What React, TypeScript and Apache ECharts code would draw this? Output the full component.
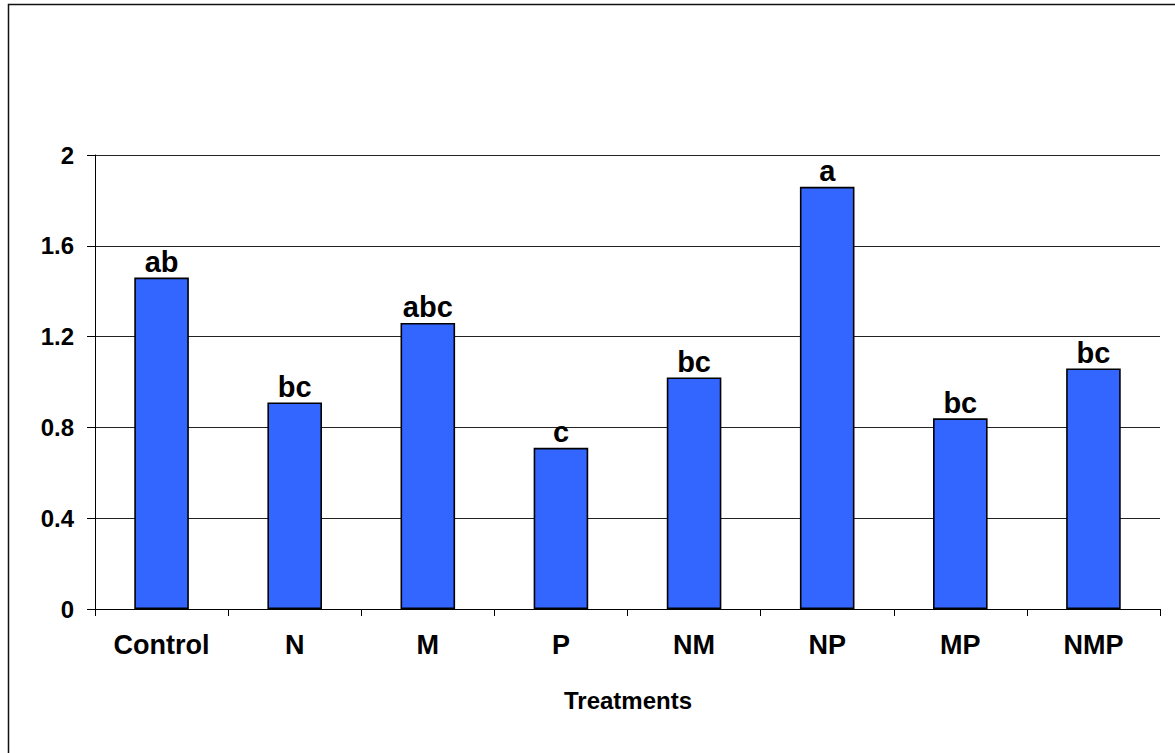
import React, { useEffect, useRef } from "react";
import * as echarts from "echarts";

const categories = ["Control", "N", "M", "P", "NM", "NP", "MP", "NMP"];
const values = [1.46, 0.91, 1.26, 0.71, 1.02, 1.86, 0.84, 1.06];
const letters = ["ab", "bc", "abc", "c", "bc", "a", "bc", "bc"];
const yMin = 0;
const yMax = 2;
const yStep = 0.4;
const xTitle = "Treatments";

const FONT = "'Liberation Sans', Arial, sans-serif";

export default function App() {
  const ref = useRef<HTMLDivElement>(null);
  useEffect(() => {
    if (!ref.current) return;
    const chart = echarts.init(ref.current, undefined, { renderer: "svg" });
    chart.setOption({
      animation: false,
      backgroundColor: "#ffffff",
      grid: { left: 95, right: 15, top: 155, bottom: 144, containLabel: false },
      xAxis: {
        type: "category",
        data: categories,
        boundaryGap: true,
        axisLine: { show: true, lineStyle: { color: "#000", width: 1 } },
        axisTick: { show: true, length: 7, alignWithLabel: false, lineStyle: { color: "#000", width: 1 } },
        axisLabel: {
          margin: 22,
          color: "#000",
          fontFamily: FONT,
          fontWeight: "bold",
          fontSize: 27,
        },
        splitLine: { show: false },
      },
      yAxis: {
        type: "value",
        min: yMin,
        max: yMax,
        interval: yStep,
        axisLine: { show: true, lineStyle: { color: "#000", width: 1 } },
        axisTick: { show: true, length: 8, lineStyle: { color: "#000", width: 1 } },
        axisLabel: {
          margin: 21,
          color: "#000",
          fontFamily: FONT,
          fontWeight: "bold",
          fontSize: 24,
          formatter: (v: number) => String(Math.round(v * 10) / 10),
        },
        splitLine: { show: true, lineStyle: { color: "#222", width: 1 } },
      },
      series: [
        {
          type: "bar",
          data: values.map((v, i) => ({
            value: v,
            label: { formatter: letters[i] },
          })),
          barWidth: "41%",
          itemStyle: { color: "#3366FF", borderColor: "#000", borderWidth: 1.6 },
          label: {
            show: true,
            position: "top",
            distance: 1,
            color: "#000",
            fontFamily: FONT,
            fontWeight: "bold",
            fontSize: 29,
            lineHeight: 29,
          },
        },
      ],
      graphic: [
        {
          type: "rect",
          shape: { x: 8.5, y: 4.5, width: 1300, height: 900 },
          style: { fill: "none", stroke: "#111", lineWidth: 1.5 },
          silent: true,
        },
        {
          type: "text",
          x: 628,
          y: 700,
          style: {
            text: xTitle,
            fill: "#000",
            font: `bold 24px ${FONT}`,
            textAlign: "center",
            textVerticalAlign: "middle",
          },
        },
      ],
    });
    return () => chart.dispose();
  }, []);
  return (
    <div
      ref={ref}
      style={{ position: "fixed", left: 0, top: 0, width: 1175, height: 753 }}
    />
  );
}
